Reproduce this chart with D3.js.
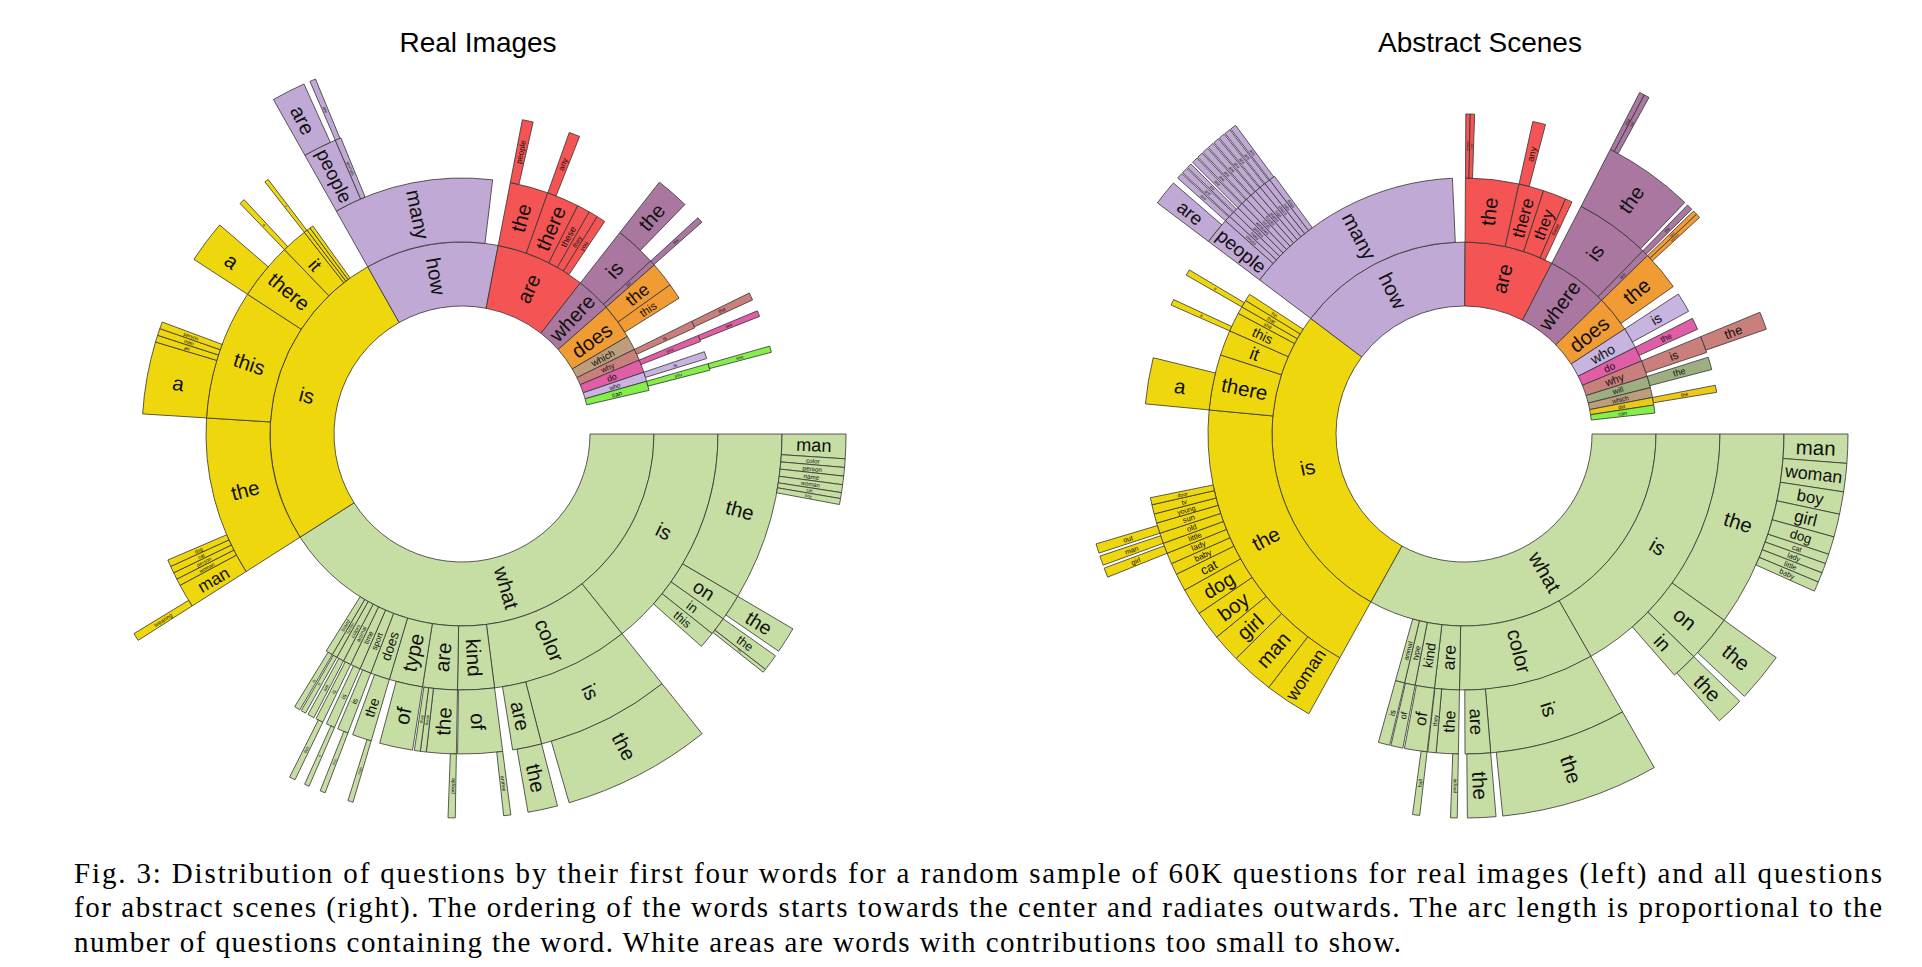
<!DOCTYPE html>
<html><head><meta charset="utf-8">
<script src="https://cdn.jsdelivr.net/npm/d3@7"></script>
<style>
html,body{margin:0;padding:0;background:#fff;}
svg{display:block;}
.cap{font-family:"Liberation Serif","Times New Roman",Times,serif;}
.lab{font-family:"Liberation Sans",Arial,Helvetica,sans-serif;}
</style></head>
<body>
<svg id="fig" width="1922" height="967"></svg>
<script>
// ---------------- data ----------------
const titles = ["Real Images", "Abstract Scenes"];
const rootWords  = ["what","is","how","are","where","does","which","why","do","who","can","will","did"];
const rootColors = ["#c6dea3","#efd70e","#c1a9d5","#f55454","#a9779f","#f19b35","#bc9e7c","#c97f7c","#df5ea5","#c7b4e0","#84ee4a","#9dae80","#ebc916"];

// [question prefix, share of questions in %]; siblings listed clockwise
const realImages = [
 ["what",40.97],["is",25.86],["how",11.19],["are",7.56],["where",2.94],["does",3.0],["which",1.22],["why",0.97],["do",1.08],["who",0.78],["can",0.78],
 ["what is",14.25],["what color",8.72],["what kind",2.31],["what are",2.19],["what type",2.11],["what does",1.22],["what sport",0.72],["what time",0.64],["what animal",0.5],["what colors",0.47],["what number",0.33],["what brand",0.44],
 ["what is the",8.47],["what is on",1.33],["what is in",0.92],["what is this",0.83],
 ["what is the man",1.03],["what is the color",0.36],["what is the person",0.36],["what is the name",0.36],["what is the woman",0.33],["what is the cat",0.25],["what is the boy",0.25],
 ["what is on the",1.1],["what is in the",0.7],["what is in this",0.15],
 ["what color is",6.75],["what color are",1.47],["what color is the",6.25],["what color are the",1.25],
 ["what kind of",2.25],["what kind of animal",0.3],
 ["what are the",1.5],["what are these",0.3],["what are they",0.3],["what are the people",0.3],
 ["what type of",1.67],
 ["what does the",0.97],["what does the man",0.22],
 ["what sport is",0.55],["what sport is this",0.22],
 ["what time is",0.45],["what time is it",0.2],
 ["what animal is",0.38],["what animal is this",0.25],
 ["what colors are",0.33],["what number is",0.25],["what brand is",0.3],
 ["is the",10.03],["is this",8.19],["is there",3.61],["is it",1.64],["is that",0.22],["is he",0.22],["is she",0.22],
 ["is the man",1.19],["is the woman",0.35],["is the person",0.35],["is the cat",0.35],["is the dog",0.35],["is the man wearing",0.33],
 ["is this a",3.64],["is this an",0.35],["is this man",0.35],["is this person",0.35],
 ["is there a",2.14],["is it a",0.28],["is that a",0.2],
 ["how many",10.08],["how many people",1.69],["how many animals",0.3],["how many people are",1.42],["how many animals are",0.25],
 ["are the",2.42],["are there",2.03],["are these",0.81],["are they",0.58],["are you",0.55],
 ["are the people",0.55],["are there any",0.55],
 ["where is",2.61],["where are",0.33],["where is the",1.69],["where are the",0.3],
 ["does the",1.58],["does this",1.0],
 ["why is",0.45],["why is the",0.38],
 ["do you",0.4],["do you see",0.3],
 ["who is",0.45],
 ["can you",0.42],["can you see",0.32]
];

const abstractScenes = [
 ["what",33.06],["is",27.22],["how",14.81],["are",7.47],["where",5.17],["does",3.06],["who",1.75],["do",1.25],["why",1.36],["will",0.97],["which",0.83],["did",0.64],["can",0.67],
 ["what is",16.75],["what color",8.53],["what are",1.56],["what kind",1.22],["what type",0.67],["what animal",0.58],
 ["what is the",9.89],["what is on",2.36],["what is in",1.33],
 ["what is the man",1.22],["what is the woman",1.19],["what is the boy",0.94],["what is the girl",0.97],["what is the dog",0.75],["what is the cat",0.41],["what is the lady",0.41],["what is the little",0.41],["what is the baby",0.41],
 ["what is on the",2.08],["what is in the",1.17],
 ["what color is",6.92],["what color are",1.28],["what color is the",6.64],["what color are the",1.19],
 ["what are the",1.11],["what are they",0.42],["what are the people",0.28],
 ["what kind of",1.14],["what kind of ball",0.3],
 ["what type of",0.61],
 ["what animal is",0.58],
 ["is the",18.44],["is there",3.5],["is it",1.6],["is this",1.21],["is she",0.46],["is that",0.46],["is he",0.46],
 ["is the woman",2.39],["is the man",2.17],["is the girl",1.44],["is the boy",1.47],["is the dog",1.36],["is the cat",0.89],["is the baby",0.58],["is the lady",0.56],["is the little",0.53],["is the old",0.53],["is the sun",0.53],["is the young",0.47],["is the tv",0.47],["is the door",0.36],
 ["is the little girl",0.4],["is the old man",0.4],["is the sun out",0.4],
 ["is there a",2.33],["is this a",0.3],["is that a",0.3],
 ["how many",14.0],["how many people",1.33],["how many clouds",0.3],["how many trees",0.3],["how many pillows",0.3],["how many windows",0.3],["how many birds",0.3],["how many books",0.3],["how many plants",0.3],["how many logs",0.3],["how many chairs",0.3],["how many cats",0.3],["how many dogs",0.3],
 ["how many people are",1.06],["how many clouds are",0.25],["how many trees are",0.25],["how many pillows are",0.2],["how many windows are",0.25],["how many birds are",0.25],["how many books are",0.25],["how many plants are",0.25],["how many logs are",0.25],["how many chairs are",0.25],["how many cats are",0.25],["how many dogs are",0.25],
 ["are the",3.36],["are there",1.58],["are they",1.46],["are these",0.44],
 ["are the people",0.22],["are the two",0.22],["are there any",0.65],
 ["where is",4.75],["where are",0.42],["where is the",4.56],["where are the",0.3],["where is the dog",0.22],["where is the cat",0.22],
 ["does the",2.5],["does the man",0.22],["does the woman",0.22],
 ["who is",1.25],
 ["do the",0.75],
 ["why is",1.05],["why is the",0.9],
 ["will the",0.8],
 ["did the",0.45]
];

const captionLines = [
 "Fig. 3: Distribution of questions by their first four words for a random sample of 60K questions for real images (left) and all questions",
 "for abstract scenes (right). The ordering of the words starts towards the center and radiates outwards. The arc length is proportional to the",
 "number of questions containing the word. White areas are words with contributions too small to show."
];

// ---------------- drawing ----------------
const svg = d3.select("#fig");
const angle  = d3.scaleLinear().domain([0, 100]).range([Math.PI / 2, Math.PI / 2 + 2 * Math.PI]);
const radius = d3.scaleLinear().domain([0, 4]).range([128, 384]);
const color  = d3.scaleOrdinal(rootWords, rootColors);
const arc = d3.arc()
  .startAngle(d => angle(d.s0)).endAngle(d => angle(d.s1))
  .innerRadius(d => radius(d.depth - 1)).outerRadius(d => radius(d.depth));

function layout(entries) {
  const byPath = new Map(), cursor = new Map([["", 0]]), out = [];
  entries.forEach(([path, v]) => {
    const words = path.split(" ");
    const parent = words.slice(0, -1).join(" ");
    const off = cursor.has(parent) ? cursor.get(parent) : byPath.get(parent).s0;
    const n = { path, word: words[words.length - 1], depth: words.length, root: words[0], s0: off, s1: off + v };
    cursor.set(parent, off + v);
    byPath.set(path, n);
    out.push(n);
  });
  return out;
}

function drawSunburst(entries, cx, cy, title) {
  const nodes = layout(entries);
  svg.append("text").attr("class", "lab").attr("x", cx + 16).attr("y", 52).attr("text-anchor", "middle")
    .attr("font-size", 28).attr("fill", "#000").text(title);
  const g = svg.append("g").attr("transform", `translate(${cx},${cy})`);
  g.selectAll("path").data(nodes).join("path")
    .attr("d", arc).attr("fill", d => color(d.root))
    .attr("stroke", "#333").attr("stroke-width", 0.8);
  const ringW = radius(1) - radius(0);
  nodes.forEach(d => {
    const a0 = angle(d.s0), a1 = angle(d.s1);
    const deg = (((a0 + a1) / 2) * 180 / Math.PI) % 360;
    const rm = (radius(d.depth - 1) + radius(d.depth)) / 2;
    let fs = Math.min(20.5, (a1 - a0) * rm * 0.8);
    if (fs < 2.5) return;
    const t = g.append("text").attr("class", "lab")
      .attr("transform", `rotate(${deg - 90}) translate(${rm},0) rotate(${deg > 180 ? 180 : 0})`)
      .attr("text-anchor", "middle").attr("dominant-baseline", "central")
      .attr("font-size", fs).attr("fill", "#111").text(d.word);
    const len = t.node().getComputedTextLength();
    const maxLen = ringW * 0.9;
    if (len > maxLen) t.attr("font-size", fs * maxLen / len);
  });
}

drawSunburst(realImages, 462, 434, titles[0]);
drawSunburst(abstractScenes, 1464, 434, titles[1]);

const capWidths = [1808, 1808, 1327];
captionLines.forEach((line, i) => {
  svg.append("text").attr("class", "cap").attr("x", 74).attr("y", 883 + i * 34.3)
    .attr("font-size", 29).attr("fill", "#000")
    .attr("textLength", capWidths[i]).attr("lengthAdjust", "spacing")
    .text(line);
});
</script>
</body></html>
